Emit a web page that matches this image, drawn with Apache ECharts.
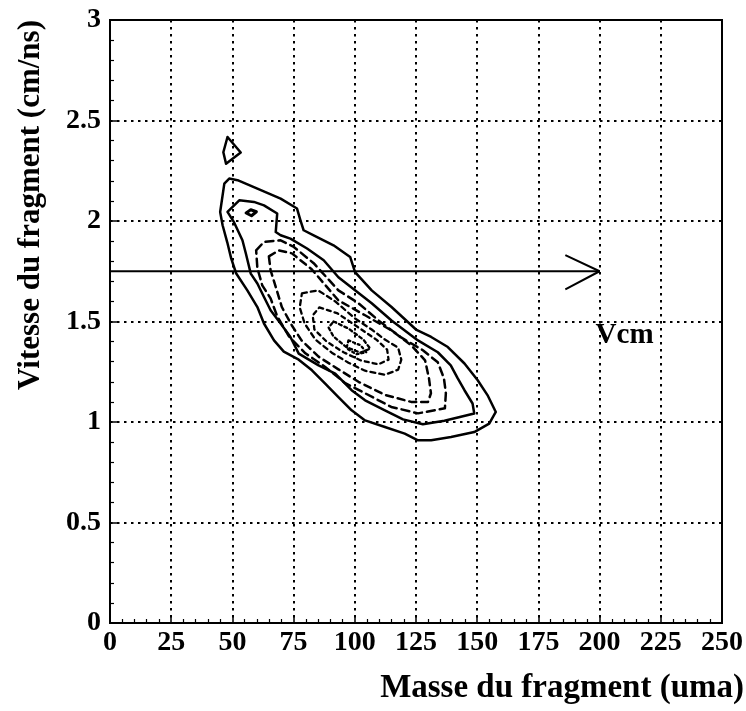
<!DOCTYPE html>
<html>
<head>
<meta charset="utf-8">
<script src="https://cdn.jsdelivr.net/npm/echarts@6/dist/echarts.min.js"></script>
<style>
html,body{margin:0;padding:0;background:#fff;}
#chart{width:746px;height:711px;}
</style>
</head>
<body>
<div id="chart"></div>
<script>
// Axis ranges / ticks
const xMin = 0, xMax = 250, xStep = 25;
const yMin = 0, yMax = 3, yStep = 0.5;

// Contour lines (Masse, Vitesse)
const contourOuter = [[45.0,2.045],[46.7,2.186],[48.7,2.211],[52.1,2.203],[60.2,2.161],[69.7,2.111],[76.4,2.062],[77.8,2.003],[79.1,1.954],[83.2,1.929],[91.3,1.879],[98.1,1.821],[100.1,1.746],[106.9,1.655],[115.0,1.572],[125.0,1.460],[131.2,1.423],[138.0,1.373],[144.8,1.291],[150.2,1.208],[154.2,1.134],[157.6,1.050],[154.9,0.992],[148.8,0.950],[139.3,0.925],[131.2,0.909],[125.8,0.909],[120.4,0.942],[112.3,0.975],[104.2,1.008],[98.7,1.058],[93.3,1.124],[87.9,1.191],[82.5,1.257],[77.1,1.310],[71.0,1.350],[67.0,1.406],[62.9,1.490],[60.2,1.572],[56.1,1.655],[51.5,1.740],[49.5,1.814],[47.9,1.894],[46.0,1.979],[45.0,2.045]];
const contourSecond = [[48.0,2.045],[52.8,2.103],[58.8,2.095],[62.9,2.078],[68.3,2.037],[67.7,1.945],[69.7,1.929],[73.7,1.912],[80.5,1.863],[87.3,1.805],[93.3,1.720],[100.1,1.655],[106.9,1.591],[115.0,1.505],[125.8,1.406],[133.9,1.347],[139.2,1.282],[142.0,1.218],[144.8,1.158],[148.1,1.092],[148.8,1.042],[136.6,1.006],[127.8,0.989],[119.7,1.013],[112.3,1.058],[104.2,1.108],[98.7,1.158],[92.0,1.241],[85.2,1.282],[77.1,1.340],[73.7,1.423],[69.7,1.490],[65.6,1.556],[62.9,1.622],[60.2,1.689],[57.5,1.738],[55.5,1.838],[54.1,1.904],[50.7,1.993],[48.0,2.045]];
const contourIsland = [[48.0,2.418],[53.4,2.341],[47.4,2.285],[46.3,2.342],[48.0,2.418]];
const contourBlob = [[55.6,2.040],[57.5,2.056],[59.8,2.046],[57.8,2.026],[55.6,2.040]];
const contourD1 = [[59.7,1.854],[62.9,1.896],[69.7,1.904],[75.1,1.871],[83.2,1.790],[93.3,1.655],[101.5,1.591],[109.6,1.506],[118.9,1.421],[127.8,1.357],[133.9,1.297],[136.4,1.218],[137.2,1.143],[136.8,1.068],[125.8,1.043],[114.9,1.075],[104.2,1.143],[96.1,1.193],[87.9,1.274],[79.8,1.342],[73.1,1.426],[68.3,1.526],[65.6,1.615],[62.2,1.680],[60.2,1.765],[59.7,1.854]];
const contourD2 = [[64.9,1.824],[69.0,1.854],[74.3,1.839],[82.4,1.760],[93.3,1.605],[104.2,1.531],[114.9,1.456],[123.0,1.382],[128.7,1.307],[130.3,1.217],[131.1,1.143],[129.9,1.100],[123.0,1.100],[112.3,1.135],[101.5,1.200],[93.3,1.262],[85.2,1.325],[78.3,1.405],[74.3,1.480],[70.2,1.572],[67.7,1.672],[65.6,1.755],[64.9,1.824]];
const contourD3 = [[78.4,1.640],[85.0,1.655],[92.0,1.600],[100.1,1.515],[106.9,1.460],[112.3,1.410],[117.7,1.370],[119.0,1.310],[117.7,1.260],[112.3,1.235],[104.2,1.255],[97.4,1.295],[90.6,1.345],[83.9,1.410],[79.5,1.490],[77.5,1.570],[78.4,1.640]];
const contourD4 = [[85.5,1.570],[93.0,1.540],[101.5,1.470],[108.8,1.410],[113.2,1.360],[113.8,1.310],[109.6,1.287],[102.3,1.307],[95.4,1.347],[88.5,1.400],[83.5,1.460],[82.8,1.530],[85.5,1.570]];
const contourD5 = [[91.3,1.500],[97.4,1.465],[103.5,1.410],[106.3,1.365],[102.3,1.345],[96.6,1.372],[91.3,1.425],[89.3,1.470],[91.3,1.500]];
const contourD6 = [[97.4,1.406],[102.3,1.382],[104.7,1.347],[100.6,1.337],[96.6,1.367],[97.4,1.406]];

// Vcm arrow and label
const vcmLine = [[0,1.75],[200,1.75]];
const vcmHead = [[186,1.83],[200,1.75],[186,1.66]];
const vcmLabel = [[200,1.43]];

const FONT = '"Liberation Serif", "Times New Roman", serif';

function contour(data, type, width) {
  return {
    type: 'line', data: data, symbol: 'none', silent: true, animation: false,
    lineStyle: { color: '#000', width: width, type: type, cap: 'round', join: 'round' },
    z: 5
  };
}

const chart = echarts.init(document.getElementById('chart'), null, { renderer: 'canvas' });
chart.setOption({
  backgroundColor: '#fff',
  animation: false,
  grid: { left: 110, top: 20, width: 616, height: 603, show: true, borderColor: '#000', borderWidth: 2, containLabel: false },
  xAxis: {
    type: 'value', min: xMin, max: xMax, interval: xStep,
    axisLine: { show: true, lineStyle: { color: '#000', width: 2 } },
    axisTick: { show: true, inside: true, length: 7, lineStyle: { color: '#000', width: 1.5 } },
    minorTick: { show: true, splitNumber: 5, length: 4, lineStyle: { color: '#000', width: 1.2 } },
    axisLabel: { color: '#000', fontFamily: FONT, fontWeight: 'bold', fontSize: 28, margin: 6 },
    splitLine: { show: true, lineStyle: { color: '#000', width: 2, type: [2.5, 4.5] } }
  },
  yAxis: {
    type: 'value', min: yMin, max: yMax, interval: yStep,
    axisLine: { show: true, lineStyle: { color: '#000', width: 2 } },
    axisTick: { show: true, inside: true, length: 7, lineStyle: { color: '#000', width: 1.5 } },
    minorTick: { show: true, splitNumber: 5, length: 4, lineStyle: { color: '#000', width: 1.2 } },
    axisLabel: { color: '#000', fontFamily: FONT, fontWeight: 'bold', fontSize: 28, margin: 9 },
    splitLine: { show: true, lineStyle: { color: '#000', width: 2, type: [2.5, 4.5] } }
  },
  graphic: [
    { type: 'text', x: 744, y: 688, style: { text: 'Masse du fragment (uma)', font: 'bold 33px ' + FONT, fill: '#000', align: 'right', verticalAlign: 'middle' } },
    { type: 'text', x: 31, y: 20, rotation: Math.PI / 2, style: { text: 'Vitesse du fragment (cm/ns)', font: 'bold 31px ' + FONT, fill: '#000', align: 'right', verticalAlign: 'middle' } }
  ],
  series: [
    contour(contourOuter, 'solid', 2.5),
    contour(contourSecond, 'solid', 2.5),
    contour(contourIsland, 'solid', 2.5),
    contour(contourBlob, 'solid', 3),
    contour(contourD1, [8, 5], 2.5),
    contour(contourD2, [7, 5], 2.5),
    contour(contourD3, [5, 4], 2.3),
    contour(contourD4, [4, 4], 2.3),
    contour(contourD5, [3, 3], 2.3),
    contour(contourD6, [2, 3], 2.3),
    { type: 'line', data: vcmLine, symbol: 'none', silent: true, lineStyle: { color: '#000', width: 2 }, z: 6 },
    { type: 'line', data: vcmHead, symbol: 'none', silent: true, lineStyle: { color: '#000', width: 2 }, z: 6 },
    { type: 'scatter', data: vcmLabel, symbolSize: 0, itemStyle: { color: '#000', opacity: 1 }, silent: true, z: 7,
      label: { show: true, formatter: 'Vcm', position: 'right', distance: 0, offset: [-4, 0], color: '#000', opacity: 1, textBorderWidth: 0, fontFamily: FONT, fontWeight: 'bold', fontSize: 29 } }
  ]
});
</script>
</body>
</html>
